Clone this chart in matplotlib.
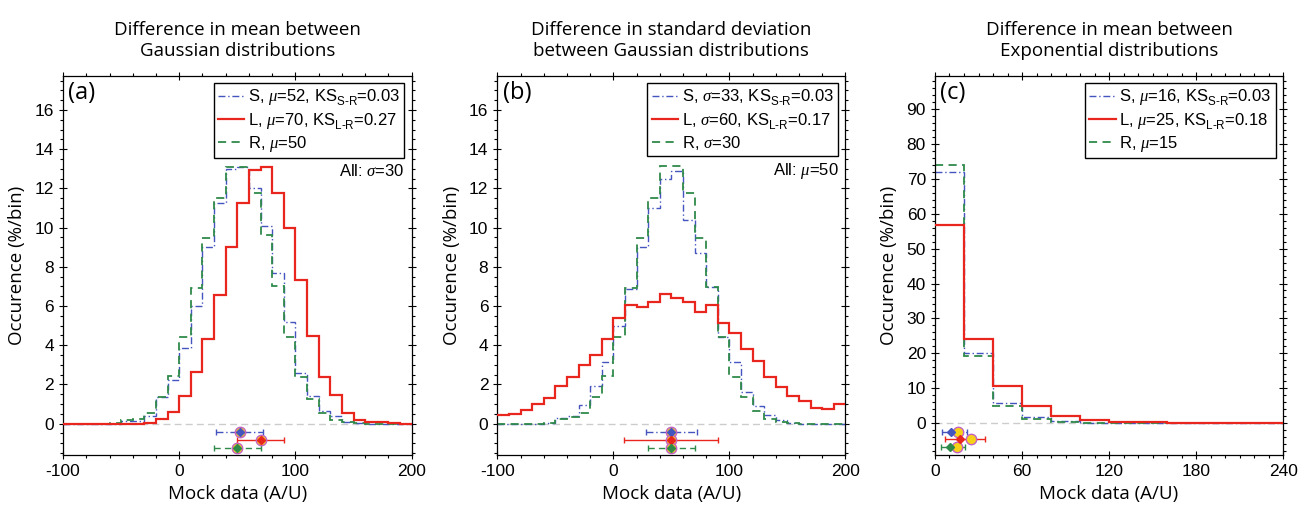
import numpy as np
import matplotlib
matplotlib.use("Agg")
import matplotlib.pyplot as plt
from matplotlib.ticker import MultipleLocator

plt.rcParams['font.family'] = ['Liberation Sans', 'DejaVu Sans']
plt.rcParams['axes.unicode_minus'] = False
plt.rcParams['mathtext.fontset'] = 'custom'
plt.rcParams['mathtext.rm'] = 'Liberation Sans'
plt.rcParams['mathtext.it'] = 'Liberation Serif:italic'

# ---- histogram data (% per bin) ----
edges_gauss = np.arange(-100, 201, 10)
edges_expo = np.arange(0, 241, 20)

# (a) difference in mean, sigma = 30
a_S = [0, 0, 0, 0, 0, 0.12, 0.14, 0.41, 1.35, 2.21, 3.85, 6.01, 9.03, 11.28, 13.0,
       13.1, 12.0, 10.1, 7.67, 5.16, 2.56, 1.40, 0.65, 0.39, 0.09, 0.02, 0, 0, 0, 0]
a_L = [0, 0, 0, 0, 0, 0, 0, 0.03, 0.26, 0.58, 1.43, 2.64, 4.34, 6.54, 9.03,
       11.24, 12.95, 13.08, 11.75, 9.97, 7.33, 4.48, 2.39, 1.48, 0.56, 0.19, 0.07, 0.09, 0.02, 0]
a_R = [0, 0, 0, 0, 0.05, 0.17, 0.24, 0.55, 1.35, 2.42, 4.40, 6.93, 9.45, 11.53, 13.1,
       13.1, 11.75, 9.6, 7.02, 4.40, 2.39, 1.24, 0.56, 0.17, 0.07, 0.02, 0, 0, 0, 0]

# (b) difference in standard deviation, mu = 50
b_S = [0, 0, 0, 0, 0.02, 0.29, 0.39, 0.97, 1.91, 3.12, 4.97, 6.87, 9.03, 10.99, 12.47,
       12.90, 10.39, 8.69, 6.98, 4.40, 3.15, 1.62, 0.89, 0.43, 0.17, 0.03, 0, 0, 0, 0]
b_L = [0.46, 0.49, 0.70, 1.01, 1.31, 1.91, 2.40, 2.98, 3.49, 4.31, 5.38, 6.05, 5.96, 6.18, 6.63,
       6.41, 6.18, 5.67, 6.03, 5.14, 4.63, 3.80, 3.19, 2.39, 1.87, 1.40, 1.14, 0.82, 0.73, 1.01]
b_R = [0, 0, 0, 0, 0.02, 0.24, 0.34, 0.56, 1.35, 2.42, 4.40, 6.90, 9.45, 11.53, 13.12,
       13.12, 11.79, 9.45, 6.98, 4.40, 2.39, 1.36, 0.65, 0.26, 0.09, 0.02, 0, 0, 0, 0]

# (c) difference in mean, exponential
c_S = [71.85, 20.2, 5.7, 1.9, 0.67, 0.19, 0.05, 0, 0, 0, 0, 0]
c_L = [56.8, 24.1, 10.76, 4.95, 2.1, 0.86, 0.38, 0.29, 0.1, 0, 0, 0]
c_R = [73.86, 19.2, 5.05, 1.33, 0.38, 0.1, 0, 0, 0, 0, 0, 0]

# ---- summary stats: mean, median, Q1, Q3 and the row each sits on ----
a_stats = {'S': (52, 52, 31.7, 72.3), 'L': (70, 70, 49.8, 90.2), 'R': (50, 50, 29.8, 70.2)}
b_stats = {'S': (50, 50, 27.8, 72.2), 'L': (50, 50, 9.5, 90.5), 'R': (50, 50, 29.8, 70.2)}
c_stats = {'S': (16, 11.1, 4.6, 22.2), 'L': (25, 17.3, 7.2, 34.7), 'R': (15, 10.4, 4.3, 20.8)}
gauss_rows = {'S': -0.43, 'L': -0.82, 'R': -1.23}
expo_rows = {'S': -2.4, 'L': -4.6, 'R': -6.9}


def ks(pair):
    return '$\\mathrm{KS}_{\\mathrm{' + pair + '}}^{}$'


labels_a = ['S, $\\mu$=52, ' + ks('S\u2010R') + '=0.03', 'L, $\\mu$=70, ' + ks('L\u2010R') + '=0.27', 'R, $\\mu$=50']
labels_b = ['S, $\\sigma$=33, ' + ks('S\u2010R') + '=0.03', 'L, $\\sigma$=60, ' + ks('L\u2010R') + '=0.17', 'R, $\\sigma$=30']
labels_c = ['S, $\\mu$=16, ' + ks('S\u2010R') + '=0.03', 'L, $\\mu$=25, ' + ks('L\u2010R') + '=0.18', 'R, $\\mu$=15']

col = {'S': '#4455c0', 'L': '#e8261e', 'R': '#2f8a4a'}
ls = {'S': (0, (5, 2, 1, 2)), 'L': '-', 'R': (0, (4.5, 3))}
lw = {'S': 1.0, 'L': 1.6, 'R': 1.3}

title_font = ['Open Sans', 'DejaVu Sans']

fig = plt.figure(figsize=(13.02, 5.09), dpi=100)
axes = [fig.add_axes([0.0484, 0.1061, 0.2678, 0.7452]),
        fig.add_axes([0.3820, 0.1061, 0.2673, 0.7452]),
        fig.add_axes([0.7181, 0.1061, 0.2675, 0.7452])]

panels = [
    (axes[0], edges_gauss, {'S': a_S, 'L': a_L, 'R': a_R}, a_stats, gauss_rows, labels_a,
     'Difference in mean between\nGaussian distributions', '(a)', r'All: $\sigma$=30'),
    (axes[1], edges_gauss, {'S': b_S, 'L': b_L, 'R': b_R}, b_stats, gauss_rows, labels_b,
     'Difference in standard deviation\nbetween Gaussian distributions', '(b)', r'All: $\mu$=50'),
    (axes[2], edges_expo, {'S': c_S, 'L': c_L, 'R': c_R}, c_stats, expo_rows, labels_c,
     'Difference in mean between\nExponential distributions', '(c)', None),
]

for ax, edges, hists, stats, rows, labels, title, tag, note in panels:
    ax.axhline(0, color='#cccccc', ls=(0, (5, 3)), lw=1, zorder=1)
    for k in ['S', 'R', 'L']:
        ax.stairs(hists[k], edges, baseline=None, color=col[k], ls=ls[k], lw=lw[k],
                  zorder=3 if k == 'L' else 2)
    handles = []
    for k in ['S', 'L', 'R']:
        h, = ax.plot([], [], color=col[k], ls=ls[k], lw=lw[k])
        handles.append(h)
    for k in ['S', 'L', 'R']:
        mean, med, q1, q3 = stats[k]
        y = rows[k]
        eb = ax.errorbar([med], [y], xerr=[[med - q1], [q3 - med]], fmt='none',
                         ecolor=col[k], elinewidth=1, capsize=2, capthick=1, zorder=4)
        eb[2][0].set_linestyle(ls[k])
        ax.plot([mean], [y], 'o', ms=7.5, mfc='#f7d117', mec='#c462c4', mew=1, zorder=5)
        ax.plot([med], [y], 'D', ms=4.5, mfc=col[k], mec=col[k], zorder=6)
    leg = ax.legend(handles, labels, loc='upper right', fontsize=12, frameon=True,
                    fancybox=False, edgecolor='black', framealpha=1, handlelength=1.6,
                    handletextpad=0.2, borderpad=0.25, labelspacing=0.2, borderaxespad=0.45)
    leg.get_frame().set_linewidth(1.0)
    ax.set_title(title, family=title_font, fontsize=13.5, pad=14, linespacing=1.25)
    ax.text(0.015, 0.985, tag, transform=ax.transAxes, family=title_font, fontsize=17,
            ha='left', va='top')
    if note:
        ax.text(0.98, 0.75, note, transform=ax.transAxes, fontsize=12, ha='right', va='center')
    ax.set_ylabel('Occurence (%/bin)', family=title_font, fontsize=13.5, labelpad=6)
    ax.set_xlabel('Mock data (A/U)', family=title_font, fontsize=13.5, labelpad=4)
    ax.tick_params(which='both', top=True, right=True, labelsize=12.5)
    ax.tick_params(which='major', direction='inout', length=6, width=0.8)
    ax.tick_params(which='minor', direction='out', length=2.5, width=0.8)
    for sp in ax.spines.values():
        sp.set_linewidth(0.9)

for ax in axes[:2]:
    ax.set_xlim(-100, 200)
    ax.set_ylim(-1.6, 17.75)
    ax.xaxis.set_major_locator(MultipleLocator(100))
    ax.xaxis.set_minor_locator(MultipleLocator(20))
    ax.yaxis.set_major_locator(MultipleLocator(2))
    ax.yaxis.set_minor_locator(MultipleLocator(0.5))

axes[2].set_xlim(0, 240)
axes[2].set_ylim(-9.1, 99.5)
axes[2].xaxis.set_major_locator(MultipleLocator(60))
axes[2].xaxis.set_minor_locator(MultipleLocator(10))
axes[2].yaxis.set_major_locator(MultipleLocator(10))
axes[2].yaxis.set_minor_locator(MultipleLocator(2))

fig.savefig('out.png', dpi=100)
